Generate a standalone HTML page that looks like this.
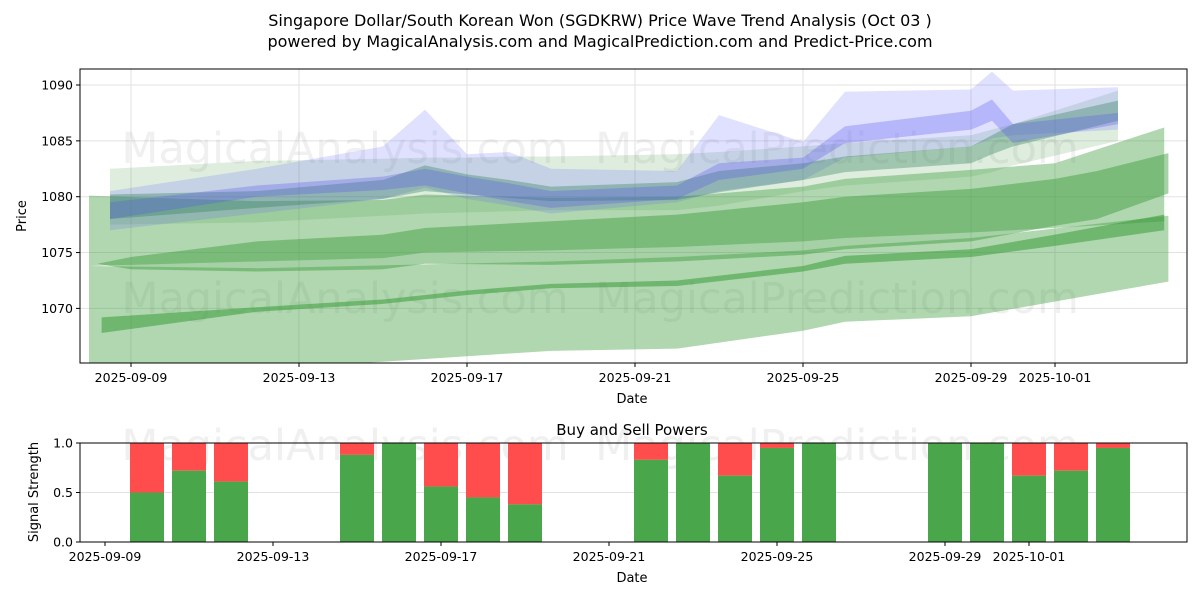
<!DOCTYPE html>
<html><head><meta charset="utf-8"><style>
body{margin:0;background:#fff;font-family:"Liberation Sans",sans-serif}
svg text{font-family:"DejaVu Sans","Liberation Sans",sans-serif}
</style></head><body>
<svg id="c" width="1200" height="600" xmlns="http://www.w3.org/2000/svg">
<defs><clipPath id="clipTop"><rect x="80" y="69" width="1107" height="294"/></clipPath></defs>
<text x="600" y="26" text-anchor="middle" font-size="16">Singapore Dollar/South Korean Won (SGDKRW) Price Wave Trend Analysis (Oct 03 )</text>
<text x="600" y="47" text-anchor="middle" font-size="16">powered by MagicalAnalysis.com and MagicalPrediction.com and Predict-Price.com</text>
<g id="topPanel"></g>
<g id="botPanel"></g>
</svg>
<script>
// ---- price chart data (day index from 2025-09-09) ----
const priceTicks=[1070,1075,1080,1085,1090];
const dateTickDays=[0,4,8,12,16,20,22];
const dateTickLabels=["2025-09-09","2025-09-13","2025-09-17","2025-09-21","2025-09-25","2025-09-29","2025-10-01"];
const lowBandDays=[-1,3,10,13,16,17,20,24.7];
const lowBandUpper=[1073.8,1073.6,1074.2,1074.6,1075.2,1075.6,1076.3,1078.3];
const lowBandLower=[1063.5,1064.5,1066.2,1066.4,1068.0,1068.8,1069.3,1072.4];
const upBandDays=[-1,3,6,7,10,13,16,17,20,22,24.6];
const upBandUpper=[1080.1,1079.6,1079.7,1080.2,1079.9,1080.0,1080.9,1081.6,1082.4,1083.0,1086.2];
const upBandLower=[1073.8,1074.2,1074.5,1075,1075.2,1075.5,1076,1076.3,1076.8,1077.2,1077.8];
const midDays=[-0.8,0,3,6,7,10,13,16,17,20,22,23,24.7];
const midUpper=[1074.0,1074.6,1076.0,1076.6,1077.2,1077.8,1078.4,1079.5,1080.0,1080.7,1081.6,1082.3,1083.9];
const midLower=[1074.0,1073.5,1073.3,1073.5,1074.0,1073.9,1074.2,1074.8,1075.3,1076.0,1077.4,1078.0,1080.3];
const thinDays=[-0.7,3,6,8,10,13,16,17,20,22,24.6];
const thinUpper=[1069.2,1070.1,1070.8,1071.6,1072.2,1072.5,1073.8,1074.7,1075.3,1076.6,1078.4];
const thinLower=[1067.8,1069.7,1070.4,1071.2,1071.8,1072.0,1073.3,1074.0,1074.6,1075.6,1077.0];
const clDays=[-0.5,3,6,7,8,9,10,13,14,16,17,20,20.5,21,23.5];
const g1Upper=[1082.5,1083.2,1083.4,1083.5,1083.5,1083.6,1083.6,1083.8,1084.0,1084.5,1084.8,1085.5,1086,1086.5,1089.5];
const g1Lower=[1077.5,1077.7,1078.3,1078.5,1078.6,1078.7,1078.8,1078.8,1079.2,1080.5,1081,1081.8,1082.2,1082.8,1085.0];
const g2Upper=[1080.2,1080.5,1081.5,1082.8,1082.0,1081.5,1080.9,1081.3,1082.3,1083.0,1083.6,1084.5,1085.5,1086.5,1088.6];
const g2Lower=[1078.0,1079.0,1079.8,1080.5,1080.2,1079.9,1079.6,1079.7,1080.4,1081.5,1082.2,1083.0,1083.8,1084.5,1086.8];
const b1Upper=[1080.5,1082.5,1084.5,1087.8,1083.8,1084.0,1082.5,1082.3,1087.3,1084.9,1089.4,1089.6,1091.2,1089.5,1089.8];
const b1Lower=[1077.0,1078.5,1079.8,1080.8,1079.8,1079.2,1078.5,1079.5,1080.5,1081.5,1083.5,1084.5,1085.2,1085.5,1086.0];
const b2Upper=[1079.5,1081.0,1081.8,1082.5,1081.8,1081.2,1080.5,1081.0,1083.0,1083.5,1086.3,1087.7,1088.7,1086.5,1087.5];
const b2Lower=[1078.0,1080.0,1080.6,1081.0,1080.3,1079.6,1079.0,1079.8,1081.5,1082.5,1084.8,1086.0,1086.8,1084.8,1086.5];
// ---- signal chart data ----
const sigDays=[1,2,3,6,7,8,9,10,13,14,15,16,17,20,21,22,23,24];
const buyPower=[0.5,0.72,0.61,0.88,1.0,0.56,0.45,0.38,0.83,1.0,0.67,0.95,1.0,1.0,1.0,0.67,0.72,0.95];
const sigTicks=[0,0.5,1.0];

const NS="http://www.w3.org/2000/svg";
function mk(tag,attrs,parent){const e=document.createElementNS(NS,tag);for(const k in attrs)e.setAttribute(k,attrs[k]);parent.appendChild(e);return e;}
const xt=d=>131+42*d, yt=v=>85+(1090-v)*11.17;
const xb=d=>105+42*d, yb=s=>542-99*s;
const topG=document.getElementById('topPanel'), botG=document.getElementById('botPanel');

priceTicks.forEach(v=>{
  const l=mk('line',{x1:80,x2:1187,y1:yt(v),y2:yt(v),stroke:'#e2e2e2','stroke-width':1},topG);
  
  
  mk('line',{x1:76,x2:80,y1:yt(v),y2:yt(v),stroke:'#000'},topG);
  const t=mk('text',{x:73,y:yt(v)+4.5,'text-anchor':'end','font-size':12.5},topG);t.textContent=v;
  
  
});
dateTickDays.forEach((d,i)=>{
  const l=mk('line',{x1:xt(d),x2:xt(d),y1:69,y2:363,stroke:'#e2e2e2'},topG);
  
  
  mk('line',{x1:xt(d),x2:xt(d),y1:363,y2:367,stroke:'#000'},topG);
  const t=mk('text',{x:xt(d),y:382,'text-anchor':'middle','font-size':12.5},topG);t.textContent=dateTickLabels[i];
  
  
});
[[345,163,"MagicalAnalysis.com"],[837,163,"MagicalPrediction.com"],[345,313,"MagicalAnalysis.com"],[837,313,"MagicalPrediction.com"],[345,460,"MagicalAnalysis.com"],[837,460,"MagicalPrediction.com"]].forEach(w=>{
  const t=mk('text',{x:w[0],y:w[1],'text-anchor':'middle','font-size':43,fill:'#999','fill-opacity':0.15},topG);t.textContent=w[2];
  
  
});
const clipG=mk('g',{'clip-path':'url(#clipTop)'},topG);
function band(days,up,lo,fill,op,name){
  let pts=days.map((d,i)=>xt(d)+','+yt(up[i]));
  for(let i=days.length-1;i>=0;i--)pts.push(xt(days[i])+','+yt(lo[i]));
  const p=mk('polygon',{points:pts.join(' '),fill:fill,'fill-opacity':op},clipG);
  
  
}
band(lowBandDays,lowBandUpper,lowBandLower,'#3a9a3a',0.4,'lower-wide-band');
band(upBandDays,upBandUpper,upBandLower,'#3a9a3a',0.4,'upper-wide-band');
band(midDays,midUpper,midLower,'#3a9a3a',0.45,'middle-trend-band');
band(thinDays,thinUpper,thinLower,'#3a9a3a',0.55,'lower-trend-band');
band(clDays,g1Upper,g1Lower,'#4a9a4a',0.18,'upper-green-band');
band(clDays,b1Upper,b1Lower,'#6666ff',0.2,'upper-blue-band');
band(clDays,g2Upper,g2Lower,'#2e7d5a',0.35,'teal-band');
band(clDays,b2Upper,b2Lower,'#5555ee',0.3,'blue-trend-band');
mk('rect',{x:80,y:69,width:1107,height:294,fill:'none',stroke:'#000','stroke-width':1},topG);
let tx=mk('text',{x:632,y:403,'text-anchor':'middle','font-size':13},topG);tx.textContent='Date';

tx=mk('text',{x:0,y:0,'text-anchor':'middle','font-size':13,transform:'translate(26,216) rotate(-90)'},topG);tx.textContent='Price';


sigTicks.forEach(s=>{
  const l=mk('line',{x1:80,x2:1187,y1:yb(s),y2:yb(s),stroke:'#e2e2e2'},botG);
  
  
  mk('line',{x1:76,x2:80,y1:yb(s),y2:yb(s),stroke:'#000'},botG);
  const t=mk('text',{x:73,y:yb(s)+4.5,'text-anchor':'end','font-size':12.5},botG);t.textContent=s.toFixed(1);
  
  
});
dateTickDays.forEach((d,i)=>{
  mk('line',{x1:xb(d),x2:xb(d),y1:542,y2:546,stroke:'#000'},botG);
  const t=mk('text',{x:xb(d),y:561,'text-anchor':'middle','font-size':12.5},botG);t.textContent=dateTickLabels[i];
  
  
});
sigDays.forEach((d,i)=>{
  const g=buyPower[i];
  const r=mk('rect',{x:xb(d)-17,y:yb(1),width:34,height:yb(g)-yb(1),fill:'#ff4c4c'},botG);
  
  
  const b=mk('rect',{x:xb(d)-17,y:yb(g),width:34,height:yb(0)-yb(g),fill:'#4aa64a'},botG);
  
  
});
mk('rect',{x:80,y:443,width:1107,height:99,fill:'none',stroke:'#000'},botG);
tx=mk('text',{x:632,y:435,'text-anchor':'middle','font-size':15},botG);tx.textContent='Buy and Sell Powers';

tx=mk('text',{x:632,y:582,'text-anchor':'middle','font-size':13},botG);tx.textContent='Date';

tx=mk('text',{x:0,y:0,'text-anchor':'middle','font-size':13,transform:'translate(38,492) rotate(-90)'},botG);tx.textContent='Signal Strength';

</script>
</body></html>
